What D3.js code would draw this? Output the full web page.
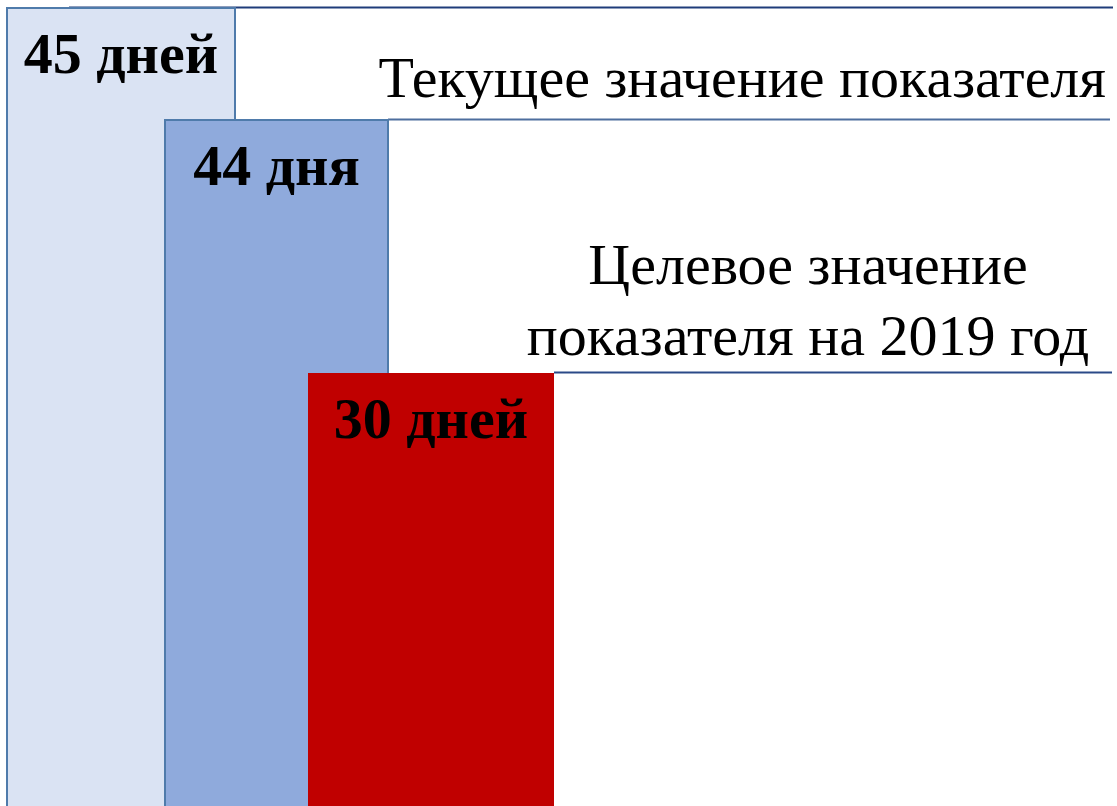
<!DOCTYPE html>
<html>
<head>
<meta charset="utf-8">
<script src="https://cdn.jsdelivr.net/npm/d3@7"></script>
<style>
  html, body { margin: 0; padding: 0; background: #ffffff; }
  svg { display: block; }
</style>
</head>
<body>
<svg id="chart" width="1117" height="806"></svg>
<script>
// Indicator values, in days
const categories = ["Базовое", "Текущее", "Целевое"];
const values = [45, 44, 30];
const valueLabels = ["45 дней", "44 дня", "30 дней"];
const fills = ["#dae3f3", "#8faadc", "#c00000"];
const strokes = ["#4f7bab", "#4f7bab", "none"];
const lineColors = ["#1f3c7a", "#4e6e9e", "#2b4a88"];
const captionLines = [
  [],
  ["Текущее значение показателя"],
  ["Целевое значение", "показателя на 2019 год"]
];

const W = 1117, H = 806;
const svg = d3.select("#chart");

// Value axis: stepped so each level sits on its own reference line
const y = d3.scaleLinear()
  .domain([0, 30, 44, 45])
  .range([H, 373, 120, 8]);

// Overlapping columns, each shifted right of the previous one
const xLeft = d3.scaleOrdinal().domain(categories).range([7, 165, 308]);
const colWidth = d3.scaleOrdinal().domain(categories).range([228, 223, 246]);

const rows = categories.map((c, i) => ({
  cat: c, value: values[i], label: valueLabels[i],
  fill: fills[i], stroke: strokes[i], line: lineColors[i], caption: captionLines[i]
}));

// Reference lines from each column top to the right edge
const lineStart = [69, 388, 554];
const lineEnd = [1113, 1110, 1112];
svg.selectAll("line.ref")
  .data(rows)
  .join("line")
  .attr("class", "ref")
  .attr("x1", (d, i) => lineStart[i])
  .attr("x2", (d, i) => lineEnd[i])
  .attr("y1", d => y(d.value) - 0.5)
  .attr("y2", d => y(d.value) - 0.5)
  .attr("stroke", d => d.line)
  .attr("stroke-width", 2);

// Columns
svg.selectAll("rect.col")
  .data(rows)
  .join("rect")
  .attr("class", "col")
  .attr("x", d => xLeft(d.cat))
  .attr("y", d => y(d.value))
  .attr("width", d => colWidth(d.cat))
  .attr("height", d => H - y(d.value) + 4)
  .attr("fill", d => d.fill)
  .attr("stroke", d => d.stroke)
  .attr("stroke-width", 2);

// Value labels inside the column tops
svg.selectAll("text.val")
  .data(rows)
  .join("text")
  .attr("class", "val")
  .attr("x", d => xLeft(d.cat) + colWidth(d.cat) / 2)
  .attr("y", d => y(d.value) + 65)
  .attr("text-anchor", "middle")
  .attr("font-family", "'Liberation Serif', 'Times New Roman', serif")
  .attr("font-weight", "bold")
  .attr("font-size", 58)
  .attr("fill", "#000")
  .text(d => d.label);

// Captions above the reference lines
const capGroup = svg.append("g")
  .attr("font-family", "'Liberation Serif', 'Times New Roman', serif")
  .attr("font-size", 58)
  .attr("fill", "#000");

capGroup.append("text")
  .attr("x", 1106)
  .attr("y", y(values[1]) - 23)
  .attr("text-anchor", "end")
  .text(captionLines[1][0]);

const target = capGroup.append("text")
  .attr("x", 808)
  .attr("text-anchor", "middle");
captionLines[2].forEach((t, i) => {
  target.append("tspan")
    .attr("x", 808)
    .attr("y", y(values[2]) - 89 + i * 71)
    .text(t);
});
</script>
</body>
</html>
